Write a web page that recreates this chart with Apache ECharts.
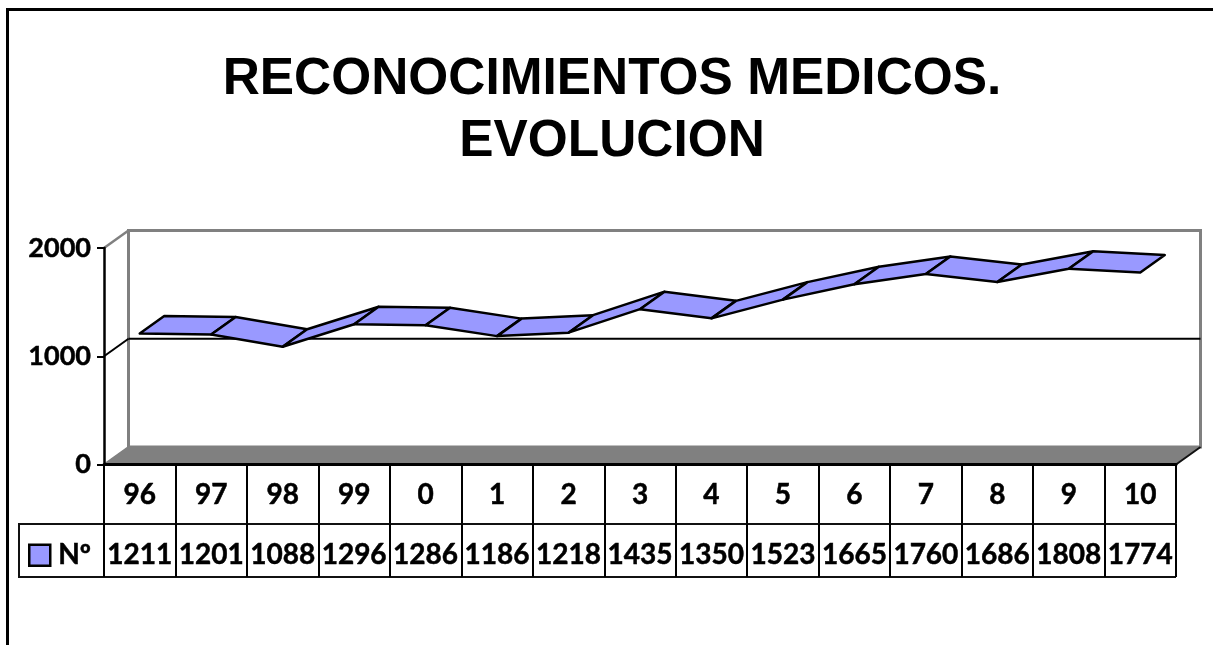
<!DOCTYPE html>
<html>
<head>
<meta charset="utf-8">
<style>html,body{margin:0;padding:0;background:#fff}#c{width:1213px;height:645px}</style>
<script src="https://cdn.jsdelivr.net/npm/echarts@6/dist/echarts.min.js"></script>
</head>
<body>
<div id="c"></div>
<script>
const titleText = 'RECONOCIMIENTOS MEDICOS.\nEVOLUCION';
const seriesName = 'Nº';
const categories = ['96','97','98','99','0','1','2','3','4','5','6','7','8','9','10'];
const values = [1211,1201,1088,1296,1286,1186,1218,1435,1350,1523,1665,1760,1686,1808,1774];
const yTicks = [0,1000,2000];
const gridValue = 1000;

const DX = 24.5, DY = -17.5;
const font = 'Lato';
const bold = {fontFamily:font,fontWeight:'bold',fontSize:28,color:'#000',textBorderColor:'#000',textBorderWidth:0.5};
const chart = echarts.init(document.getElementById('c'), null, {renderer:'canvas'});

function back(p){ return [p[0]+DX, p[1]+DY]; }

function renderFrame(params, api){
  const band = api.size([1,0])[0];
  const last = categories.length-1;
  const x0 = api.coord([0,0])[0]-band/2;
  const x1 = api.coord([last,0])[0]+band/2;
  const y0 = api.coord([0,yTicks[0]])[1];
  const yTop = api.coord([0,yTicks[2]])[1];
  const yMid = api.coord([0,gridValue])[1];
  const bl=[x0,y0], br=[x1,y0], tl=[x0,yTop];
  const grey='#808080';
  const line=(a,b,c,w)=>({type:'line',shape:{x1:a[0],y1:a[1],x2:b[0],y2:b[1]},style:{stroke:c,lineWidth:w,fill:null}});
  return {type:'group',children:[
    {type:'polygon',shape:{points:[bl,back(bl),back(br),br]},style:{fill:grey,stroke:grey,lineWidth:1}},
    {type:'polygon',shape:{points:[back(tl),[back(br)[0],back(tl)[1]],back(br),back(bl)]},style:{fill:'#fff',stroke:grey,lineWidth:3}},
    line(tl,back(tl),grey,2.5),
    line(bl,back(bl),grey,2),
    line(br,back(br),'#111',2),
    line([x0,yMid],back([x0,yMid]),'#000',2),
    line(back([x0,yMid]),back([x1,yMid]),'#000',2),
    // data-table label cell
    line([19,y0+59.5],[x0,y0+59.5],'#111',2),
    line([19,y0+112.5],[x1,y0+112.5],'#111',2),
    line([19,y0+58.5],[19,y0+113.5],'#111',2)
  ]};
}

function renderRibbon(params, api){
  const i = api.value(0);
  const a = api.coord([i, api.value(1)]);
  const b = api.coord([i+1, api.value(2)]);
  return {type:'polygon',shape:{points:[a,b,back(b),back(a)]},
    style:{fill:api.visual('color'),stroke:'#000',lineWidth:2.5,lineJoin:'round'}};
}

const ribbonData = values.slice(0,-1).map((v,i)=>[i,v,values[i+1]]);

chart.setOption({
  animation:false,
  backgroundColor:'#fff',
  title:{text:titleText,left:607,top:44,textAlign:'center',
    textStyle:{fontFamily:'Liberation Sans',fontWeight:'bold',fontSize:51.4,lineHeight:62,color:'#000'}},
  legend:{data:[seriesName],left:28,top:541,padding:0,selectedMode:false,itemWidth:21,itemHeight:21,icon:'rect',
    itemStyle:{borderColor:'#000',borderWidth:2.5},
    textStyle:Object.assign({},bold,{padding:[0,0,0,3]})},
  grid:{left:104,top:248,width:1072,height:216.5,containLabel:false},
  xAxis:[
    {type:'category',data:categories,position:'bottom',z:5,
      axisLine:{lineStyle:{color:'#000',width:3}},
      axisTick:{show:true,length:59,lineStyle:{color:'#000',width:2}},
      axisLabel:Object.assign({interval:0,margin:16},bold)},
    {type:'category',data:values.map(String),position:'bottom',offset:59.5,z:5,
      axisLine:{lineStyle:{color:'#111',width:2}},
      axisTick:{show:true,length:53,lineStyle:{color:'#000',width:2}},
      axisLabel:Object.assign({interval:0,margin:17},bold)}
  ],
  yAxis:{type:'value',min:yTicks[0],max:yTicks[2],interval:gridValue,z:5,
    axisLine:{show:true,lineStyle:{color:'#000',width:2.5}},
    axisTick:{show:true,length:7,lineStyle:{color:'#000',width:2}},
    splitLine:{show:false},
    axisLabel:Object.assign({},bold,{fontSize:27,margin:13,padding:[5,0,0,0],formatter:v=>String(v)})},
  series:[
    {type:'custom',name:'frame',silent:true,z:1,data:[[0]],encode:{x:0},renderItem:renderFrame},
    {type:'custom',name:seriesName,z:2,data:ribbonData,encode:{x:0,y:1},
      itemStyle:{color:'#9999ff'},renderItem:renderRibbon}
  ],
  graphic:[
    {type:'polyline',silent:true,shape:{points:[[7.5,645],[7.5,9.5],[1213,9.5]]},style:{stroke:'#000',lineWidth:3,fill:null}}
  ]
});
</script>
</body>
</html>
